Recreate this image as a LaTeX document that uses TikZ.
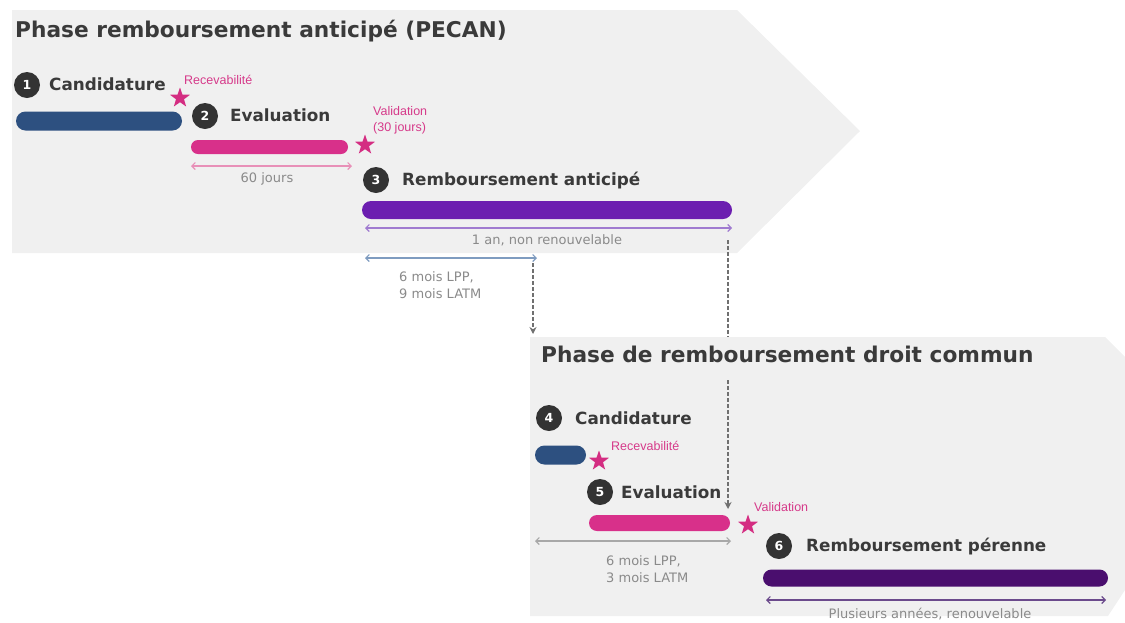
\documentclass[tikz,border=0pt]{standalone}
\usepackage{fontspec}
\setmainfont{DejaVu Sans}
\newfontfamily\labfont{Liberation Sans}
\usetikzlibrary{arrows.meta,shapes.geometric,shapes.misc}
\definecolor{panelc}{HTML}{F0F0F0}
\definecolor{headc}{HTML}{3A3A3A}
\definecolor{numc}{HTML}{333333}
\definecolor{bluebar}{HTML}{2D5080}
\definecolor{pinkbar}{HTML}{D8308A}
\definecolor{purpbar}{HTML}{6C1EB0}
\definecolor{dpurpbar}{HTML}{4A0E6E}
\definecolor{starc}{HTML}{D42D82}
\definecolor{pinktxt}{HTML}{D63A8A}
\definecolor{graytxt}{HTML}{8A8A8A}
\definecolor{pinkarr}{HTML}{E890B8}
\definecolor{lpurparr}{HTML}{A07BD0}
\definecolor{bluearr}{HTML}{7F9CC0}
\definecolor{grayarr}{HTML}{A8A8A8}
\definecolor{purparr}{HTML}{6B4A8C}
\definecolor{dashc}{HTML}{707070}
\tikzset{
  titletxt/.style={font=\bfseries\fontsize{21.7}{26}\selectfont, text=headc, inner sep=0, anchor=mid west},
  headtxt/.style={font=\bfseries\fontsize{16.8}{20}\selectfont, text=headc, inner sep=0, anchor=mid west},
  numc/.style={circle, fill=numc, text=white, font=\bfseries\fontsize{12.5}{14}\selectfont, minimum size=26pt, inner sep=0},
  pinklab/.style={font=\labfont\fontsize{12.5}{16}\selectfont, text=pinktxt, align=left, inner sep=0, anchor=west},
  graylab/.style={font=\fontsize{13}{17.5}\selectfont, text=graytxt, align=left, inner sep=0},
  starn/.style={star, star points=5, star point ratio=2.5, fill=starc, inner sep=0, minimum size=21pt},
  barn/.style={rounded rectangle, inner sep=0},
  dimarr/.style={line width=1.1pt, {Straight Barb[length=3.5pt,width=7pt]}-{Straight Barb[length=3.5pt,width=7pt]}},
  dasharr/.style={draw=dashc, line width=1.3pt, dash pattern=on 4pt off 2pt, -{Stealth[length=7pt,width=7pt]}}
}
\begin{document}
\begin{tikzpicture}[x=1pt,y=-1pt]
\useasboundingbox (0,0) rectangle (1125,622);
% panels
\fill[panelc] (12,10) -- (737,10) -- (860,131) -- (737,253) -- (12,253) -- cycle;
\fill[panelc] (530,337) -- (1105,337) -- (1125,357) -- (1125,590) -- (1108,616) -- (530,616) -- cycle;

% dashed connectors
\coordinate (v1s) at (533,263);
\coordinate (v1e) at (533,334);
\coordinate (v2s) at (728,240);
\coordinate (v2m) at (728,337);
\coordinate (v2n) at (728,380);
\coordinate (v2e) at (728,509);
\draw[dasharr] (v1s) -- (v1e);
\draw[dashc, line width=1.3pt, dash pattern=on 4pt off 2pt] (v2s) -- (v2m);
\draw[dasharr] (v2n) -- (v2e);

% titles
\node[titletxt] (t1) at (15,35) {Phase remboursement anticipé (PECAN)};
\node[titletxt] (t2) at (541,360) {Phase de remboursement droit commun};

% step 1
\node[numc] (n1) at (27,85) {1};
\node[headtxt] (h1) at (49,88) {Candidature};
\node[barn, fill=bluebar, minimum width=166pt, minimum height=19pt] (b1) at (99,121) {};
\node[starn] (s1) at (180,98) {};
\node[pinklab] (r1) at (184,80) {Recevabilité};

% step 2
\node[numc] (n2) at (205,116) {2};
\node[headtxt] (h2) at (230,119) {Evaluation};
\node[barn, fill=pinkbar, minimum width=157pt, minimum height=14pt] (b2) at (269.5,147) {};
\node[starn] (s2) at (365,145) {};
\node[pinklab] (r2) at (373,120) {Validation\\(30 jours)};
\coordinate (d1a) at (191,166);
\coordinate (d1b) at (352,166);
\draw[dimarr, pinkarr] (d1a) -- (d1b);
\node[graylab] (l1) at (267,179) {60 jours};

% step 3
\node[numc] (n3) at (376,180) {3};
\node[headtxt] (h3) at (402,183) {Remboursement anticipé};
\node[barn, fill=purpbar, minimum width=370pt, minimum height=18pt] (b3) at (547,210) {};
\coordinate (d2a) at (365,228);
\coordinate (d2b) at (732,228);
\draw[dimarr, lpurparr] (d2a) -- (d2b);
\node[graylab] (l2) at (547,240) {1 an, non renouvelable};
\coordinate (d3a) at (365,258);
\coordinate (d3b) at (537,258);
\draw[dimarr, bluearr] (d3a) -- (d3b);
\node[graylab, anchor=west] (l3) at (399,285) {6 mois LPP,\\9 mois LATM};

% step 4
\node[numc] (n4) at (549,418) {4};
\node[headtxt] (h4) at (575,422) {Candidature};
\node[barn, fill=bluebar, minimum width=51pt, minimum height=19pt] (b4) at (560.5,455) {};
\node[starn] (s3) at (599,461) {};
\node[pinklab] (r3) at (611,446) {Recevabilité};

% step 5
\node[numc] (n5) at (600,492) {5};
\node[headtxt] (h5) at (621,496) {Evaluation};
\node[barn, fill=pinkbar, minimum width=141pt, minimum height=16pt] (b5) at (659.5,523) {};
\node[starn] (s4) at (748,525) {};
\node[pinklab] (r4) at (754,507) {Validation};
\coordinate (d4a) at (535,541);
\coordinate (d4b) at (731,541);
\draw[dimarr, grayarr] (d4a) -- (d4b);
\node[graylab, anchor=west] (l4) at (606,569) {6 mois LPP,\\3 mois LATM};

% step 6
\node[numc] (n6) at (779,546) {6};
\node[headtxt] (h6) at (806,549) {Remboursement pérenne};
\node[barn, fill=dpurpbar, minimum width=345pt, minimum height=17pt] (b6) at (935.5,578) {};
\coordinate (d5a) at (766,600);
\coordinate (d5b) at (1106,600);
\draw[dimarr, purparr] (d5a) -- (d5b);
\node[graylab] (l5) at (930,614) {Plusieurs années, renouvelable};
\end{tikzpicture}
\end{document}
